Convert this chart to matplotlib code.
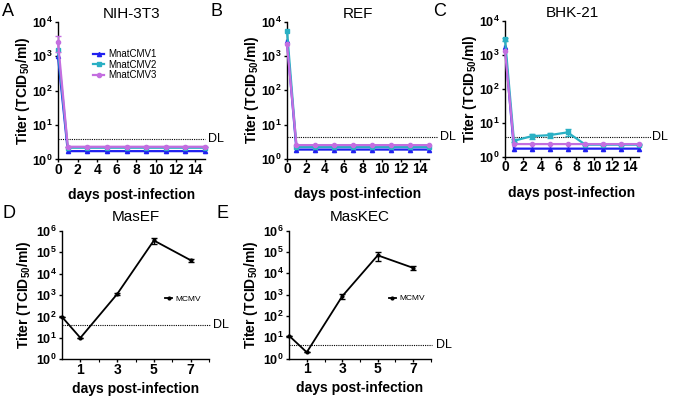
import numpy as np
import matplotlib
matplotlib.use('Agg')
import matplotlib.pyplot as plt
from matplotlib.ticker import FixedLocator, FuncFormatter, NullLocator

plt.rcParams['font.family'] = ['Liberation Sans', 'DejaVu Sans']
plt.rcParams['mathtext.fontset'] = 'custom'
plt.rcParams['mathtext.rm'] = 'Liberation Sans'
plt.rcParams['mathtext.bf'] = 'Liberation Sans:bold'
plt.rcParams['mathtext.default'] = 'bf'

# datos de los paneles superiores (A-C)
dias = [0, 1, 3, 5, 7, 9, 11, 13, 15]
series = ['MnatCMV1', 'MnatCMV2', 'MnatCMV3']
colores = ['#2020f0', '#2ab0c4', '#c46ee0']
marcadores = ['^', 's', 'o']

nih_v1 = [1000, 1.75, 1.75, 1.75, 1.75, 1.75, 1.75, 1.75, 1.75]
nih_v2 = [1500, 2.2, 2.2, 2.2, 2.2, 2.2, 2.2, 2.2, 2.2]
nih_v3 = [2600, 2.35, 2.35, 2.35, 2.35, 2.35, 2.35, 2.35, 2.35]
nih_e3 = [1300, 0, 0, 0, 0, 0, 0, 0, 0]

ref_v1 = [2800, 1.85, 1.85, 1.85, 1.85, 1.85, 1.85, 1.85, 1.85]
ref_v2 = [5400, 2.2, 2.2, 2.2, 2.2, 2.2, 2.2, 2.2, 2.2]
ref_v3 = [2200, 2.5, 2.5, 2.5, 2.5, 2.5, 2.5, 2.5, 2.5]

bhk_v1 = [1750, 1.76, 1.76, 1.76, 1.76, 1.76, 1.76, 1.76, 1.76]
bhk_v2 = [2900, 3.0, 4.1, 4.4, 5.3, 2.3, 2.3, 2.3, 2.3]
bhk_e2 = [300, 0.3, 0.8, 0.8, 1.2, 0.1, 0.1, 0.1, 0.1]
bhk_v3 = [1350, 2.4, 2.4, 2.4, 2.4, 2.4, 2.4, 2.4, 2.4]

dl_sup = [3.9, 4.2, 3.8]

# datos de los paneles inferiores (D-E)
dias_mcmv = [0, 1, 3, 5, 7]
masef = [95, 10, 1100, 3.5e5, 4.2e4]
masef_err = [0, 0, 100, 1.0e5, 8e3]
maskec = [12, 2, 850, 7e4, 1.8e4]
maskec_err = [0, 0, 250, 3e4, 3e3]
dl_inf = [39, 4.2]

W, H = 673, 400
fig = plt.figure(figsize=(W / 100, H / 100), dpi=100)


def ejes(l, r, t, b):
    return fig.add_axes([l / W, 1 - b / H, (r - l) / W, (b - t) / H])


def fmt_log(v, pos):
    return r'$\mathbf{10^{%d}}$' % int(round(np.log10(v)))


def estilo(ax, ymax, pad_y, pad_x):
    ax.set_yscale('log')
    ax.set_ylim(1, 10 ** ymax)
    ax.yaxis.set_major_locator(FixedLocator([10 ** k for k in range(ymax + 1)]))
    ax.yaxis.set_major_formatter(FuncFormatter(fmt_log))
    ax.yaxis.set_minor_locator(NullLocator())
    for s in ['top', 'right']:
        ax.spines[s].set_visible(False)
    for s in ['left', 'bottom']:
        ax.spines[s].set_linewidth(1.0)
    ax.tick_params(axis='x', labelsize=10, length=2, width=1, pad=0.5)
    ax.tick_params(axis='y', labelsize=9, length=2.5, width=1, pad=1.5)
    for lab in ax.get_xticklabels():
        lab.set_fontweight('bold')
    ax.set_ylabel('Titer (TCID$_{50}$/ml)', fontsize=10, fontweight='bold', labelpad=pad_y)
    ax.set_xlabel('days post-infection', fontsize=10, fontweight='bold', labelpad=pad_x)


paneles_sup = [
    ('A', 2, 'NIH-3T3', (58, 205, 22, 159.5), [nih_v1, nih_v2, nih_v3], [None, None, nih_e3], 15.0, 15.3),
    ('B', 211, 'REF', (287, 429, 22, 158.7), [ref_v1, ref_v2, ref_v3], [None, None, None], 15.9, 16.2),
    ('C', 433, 'BHK-21', (505, 639, 21, 157), [bhk_v1, bhk_v2, bhk_v3], [None, bhk_e2, None], 16.3, 16.5),
]

for i, (letra, lx, titulo, caja, vals, errs, fin_dl, x_dl) in enumerate(paneles_sup):
    ax = ejes(*caja)
    for k in range(3):
        ax.plot(dias, vals[k], color=colores[k], marker=marcadores[k], markersize=3,
                lw=1.6, label=series[k], clip_on=False, zorder=3 + k)
        if errs[k] is not None:
            ax.errorbar(dias, vals[k], yerr=errs[k], fmt='none', ecolor=colores[k],
                        capsize=2, elinewidth=1, clip_on=False, zorder=3 + k)
    ax.set_xlim(0, 15)
    ax.set_xticks(range(0, 15, 2))
    estilo(ax, 4, 0, 8)
    ax.plot([0, fin_dl], [dl_sup[i]] * 2, ls=(0, (1, 1)), color='black', lw=0.8, clip_on=False)
    ax.text(x_dl, dl_sup[i], 'DL', fontsize=9, va='center', ha='left')
    ax.set_title(titulo, fontsize=11, pad=3)
    fig.text(lx / W, 1 - 12 / H, letra, fontsize=13, va='center')
    if i == 0:
        ax.legend(loc='upper left', bbox_to_anchor=(0.21, 0.83), frameon=False, fontsize=7,
                  handlelength=1.2, handletextpad=0.4, labelspacing=0.05, borderaxespad=0)

paneles_inf = [
    ('D', 2, 'MasEF', (62, 209, 230.7, 359.3), masef, masef_err, dl_inf[0], 8.05, 8.2),
    ('E', 217, 'MasKEC', (289, 431, 230.7, 358.7), maskec, maskec_err, dl_inf[1], 8.06, 8.3),
]

for letra, lx, titulo, caja, vals, err, dl, fin_dl, x_dl in paneles_inf:
    ax = ejes(*caja)
    ax.plot(dias_mcmv, vals, color='black', marker='o', markersize=2, lw=1.3,
            label='MCMV', clip_on=False, zorder=3)
    ax.errorbar(dias_mcmv, vals, yerr=err, fmt='none', ecolor='black', capsize=2,
                elinewidth=1, clip_on=False, zorder=3)
    ax.set_xlim(0, 8)
    ax.set_xticks([1, 3, 5, 7])
    ax.set_xticks([2, 4, 6, 8], minor=True)
    ax.tick_params(axis='x', which='minor', length=2, width=0.8)
    estilo(ax, 6, 2, 3.5)
    ax.plot([0, fin_dl], [dl] * 2, ls=(0, (1, 1)), color='black', lw=0.8, clip_on=False)
    ax.text(x_dl, dl, 'DL', fontsize=9, va='center', ha='left')
    ax.set_title(titulo, fontsize=11, pad=7)
    fig.text(lx / W, 1 - 213 / H, letra, fontsize=13, va='center')
    ax.legend(loc='center left', bbox_to_anchor=(0.68, 0.47), frameon=False, fontsize=6,
              handlelength=0.8, handletextpad=0.4, borderaxespad=0)

fig.savefig('out.png', dpi=100)
